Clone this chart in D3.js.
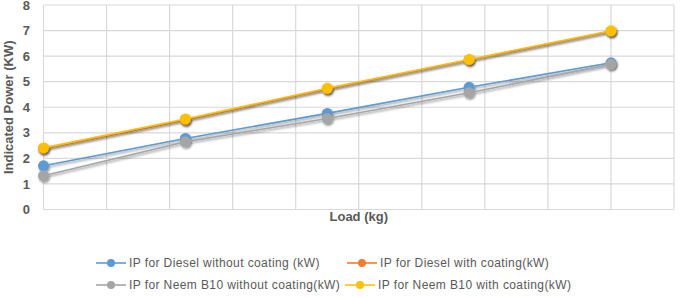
<!DOCTYPE html>
<html>
<head>
<meta charset="utf-8">
<script src="https://cdn.jsdelivr.net/npm/d3@7"></script>
<style>
  body { margin: 0; background: #fff; }
  svg { display: block; font-family: Arial, "Liberation Sans", sans-serif; }
</style>
</head>
<body>
<script>
// data
var loads = [0, 4.5, 9, 13.5, 18];
var dieselNoCoat = [1.71, 2.78, 3.76, 4.78, 5.74];
var dieselCoat = [2.38, 3.5, 4.72, 5.85, 6.97];
var neemNoCoat = [1.32, 2.65, 3.56, 4.57, 5.68];
var neemCoat = [2.41, 3.54, 4.74, 5.87, 6.99];
var seriesNames = ["IP for Diesel without coating (kW)", "IP for Diesel with coating(kW)",
  "IP for Neem B10 without coating(kW)", "IP for Neem B10 with coating(kW)"];
var yTicks = [0, 1, 2, 3, 4, 5, 6, 7, 8];
var xTicks = [0, 2, 4, 6, 8, 10, 12, 14, 16, 18, 20];

var w = 681, h = 298;
var colors = ["#5B9BD5", "#ED7D31", "#A5A5A5", "#FFC000"];
var allSeries = [dieselNoCoat, dieselCoat, neemNoCoat, neemCoat];

var svg = d3.select("body").append("svg")
  .attr("width", w).attr("height", h);

var defs = svg.append("defs");
defs.append("filter").attr("id", "shadow")
  .attr("x", "-50%").attr("y", "-50%").attr("width", "200%").attr("height", "200%")
  .append("feDropShadow")
  .attr("dx", 1).attr("dy", 1.5).attr("stdDeviation", 1.2)
  .attr("flood-color", "#000").attr("flood-opacity", 0.45);

var xScale = d3.scaleLinear().domain([0, 20]).range([43.5, 674]);
var yScale = d3.scaleLinear().domain([0, 8]).range([209.5, 5]);

// gridlines
svg.append("g").selectAll("line.h")
  .data(yTicks).enter().append("line")
  .attr("x1", xScale(0)).attr("x2", xScale(20))
  .attr("y1", d => yScale(d)).attr("y2", d => yScale(d))
  .attr("stroke", "#d9d9d9").attr("stroke-width", 1.2);

svg.append("g").selectAll("line.v")
  .data(xTicks).enter().append("line")
  .attr("y1", yScale(0)).attr("y2", yScale(8))
  .attr("x1", d => xScale(d)).attr("x2", d => xScale(d))
  .attr("stroke", "#d9d9d9").attr("stroke-width", 1.2);

// y axis labels
const yAxis = d3.axisLeft(yScale).tickValues(yTicks).tickSize(0).tickPadding(0);
var yg = svg.append("g")
  .attr("transform", "translate(30,0)")
  .call(yAxis);
yg.select(".domain").remove();
yg.selectAll("text")
  .attr("font-size", 13).attr("font-weight", "bold")
  .attr("fill", "#595959").attr("font-family", "Arial, 'Liberation Sans', sans-serif");

// axis titles
svg.append("text")
  .attr("x", (xScale(0) + xScale(20)) / 2).attr("y", 221)
  .attr("text-anchor", "middle")
  .attr("font-size", 13).attr("font-weight", "bold").attr("fill", "#595959")
  .text("Load (kg)");

svg.append("text")
  .attr("transform", "translate(13," + ((yScale(0) + yScale(8)) / 2) + ") rotate(-90)")
  .attr("text-anchor", "middle")
  .attr("font-size", 13).attr("font-weight", "bold").attr("fill", "#595959")
  .text("Indicated Power (KW)");

// lines and markers
var line = d3.line().x((d, i) => xScale(loads[i])).y(d => yScale(d));

allSeries.forEach(function(vals, k) {
  var g = svg.append("g").attr("filter", "url(#shadow)");
  g.append("path")
    .attr("d", line(vals))
    .attr("fill", "none")
    .attr("stroke", colors[k])
    .attr("stroke-width", 1.6);
  g.selectAll("circle")
    .data(vals).enter().append("circle")
    .attr("cx", (d, i) => xScale(loads[i]))
    .attr("cy", d => yScale(d))
    .attr("r", 5.5)
    .attr("fill", colors[k]);
});

// legend
var legendPos = [[96, 263], [347, 263], [96, 285], [345, 285]];
seriesNames.forEach(function(name, k) {
  var lx = legendPos[k][0], ly = legendPos[k][1];
  var lg = svg.append("g");
  lg.append("line")
    .attr("x1", lx).attr("x2", lx + 30)
    .attr("y1", ly).attr("y2", ly)
    .attr("stroke", colors[k]).attr("stroke-width", 1.6);
  lg.append("circle")
    .attr("cx", lx + 15).attr("cy", ly).attr("r", 4)
    .attr("fill", colors[k]);
  lg.append("text")
    .attr("x", lx + 33).attr("y", ly + 4)
    .attr("font-size", 12).attr("letter-spacing", 0.4).attr("fill", "#595959")
    .text(name);
});
</script>
</body>
</html>
